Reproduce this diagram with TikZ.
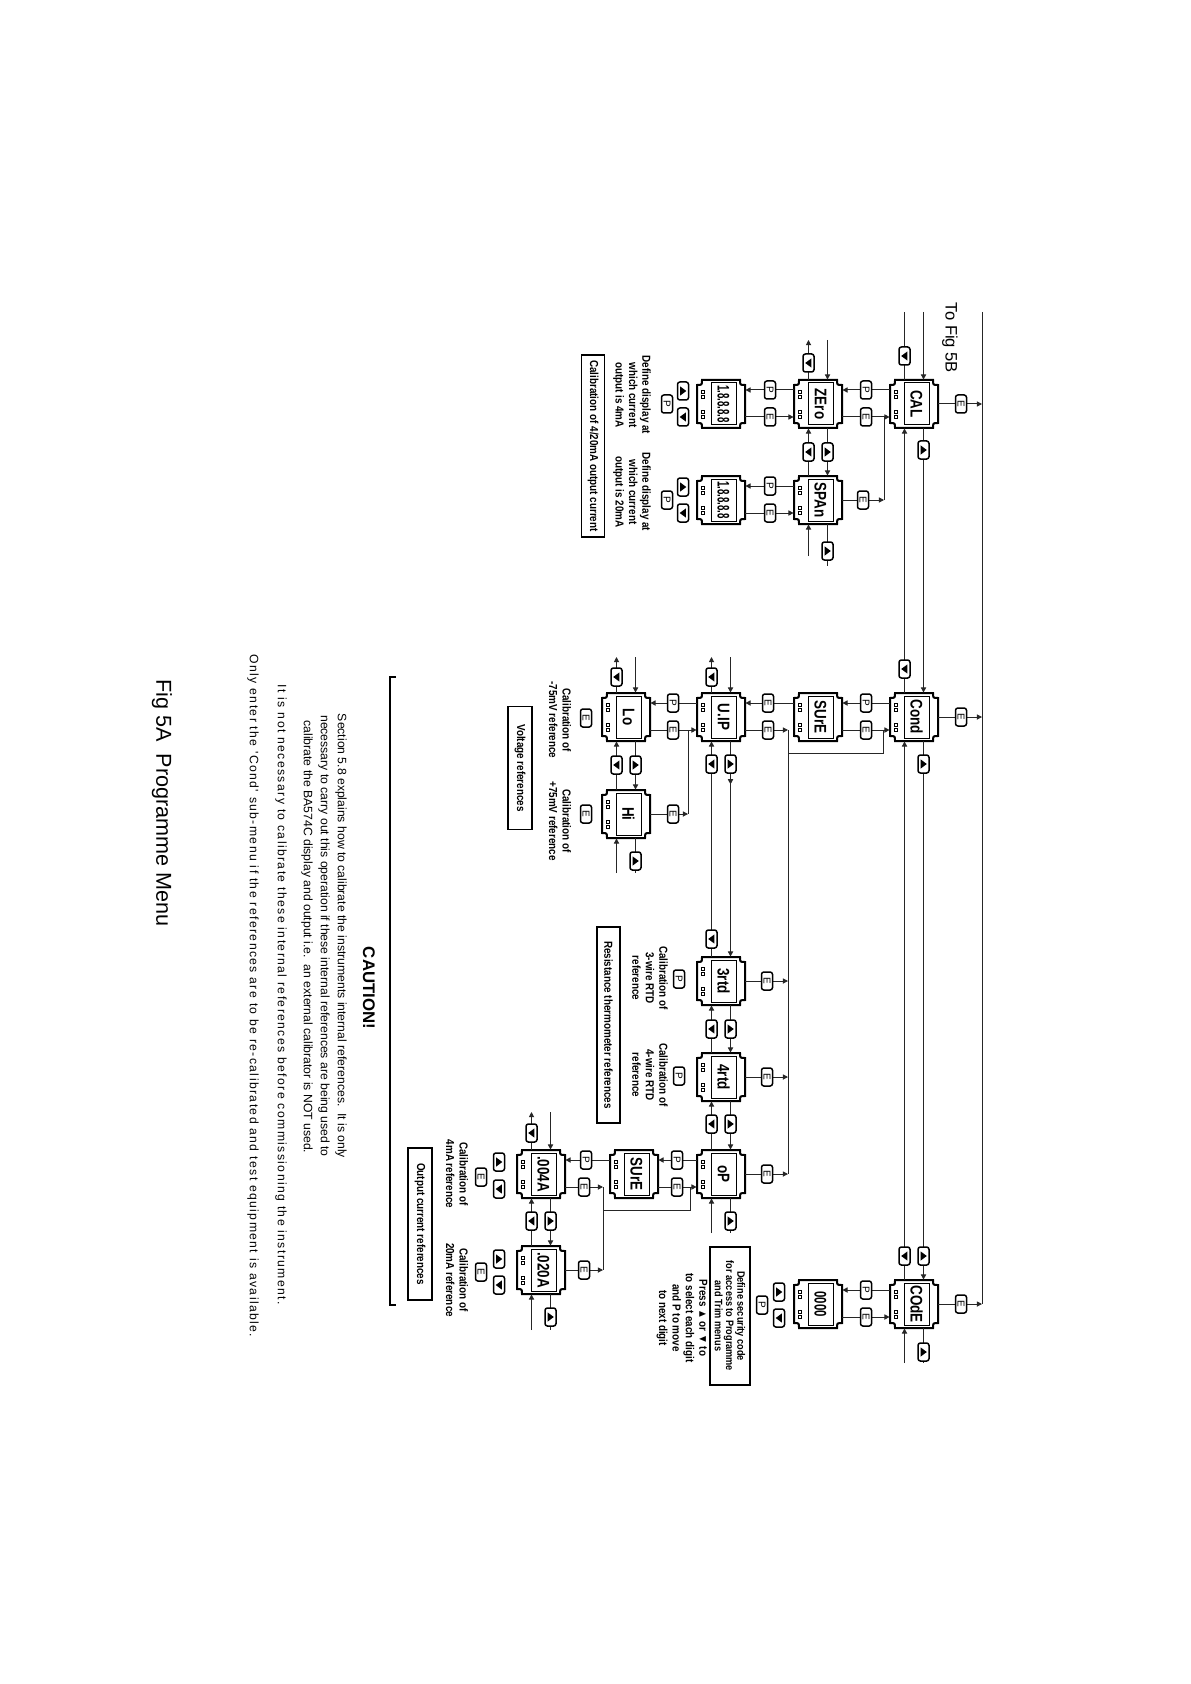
\documentclass[tikz,border=0pt]{standalone}
\usepackage{fontspec}
\usepackage{graphicx}
\setmainfont{Liberation Sans}
\newfontfamily\narrowf[FakeStretch=0.85]{Liberation Sans}
\newfontfamily\dispfam[FakeStretch=0.8]{Liberation Sans}
\newfontfamily\spacedf[LetterSpace=11.5]{Liberation Sans}
\usetikzlibrary{arrows.meta,calc,decorations.markings}
\newcommand\mylab{\narrowf\bfseries\fontsize{5.8}{6.7}\selectfont}
\newcommand\mylabs{\narrowf\bfseries\fontsize{5.4}{5.6}\selectfont}
\newcommand\mydispfont{\dispfam\bfseries\fontsize{8.4}{9}\selectfont}
\newcommand\mybtnfont{\fontsize{5}{5}\selectfont}
\newcommand\myparafont{\fontsize{6.1}{7}\selectfont}
\newcommand\myparasp{\spacedf\fontsize{6.1}{7}\selectfont}
\newcounter{btn}
\tikzset{
  ln/.style={line width=0.5pt, draw=black!85},
  arr/.style={ln, -{Triangle[length=2.6pt,width=2.6pt]}},
  dispnode/.style={minimum width=24pt, minimum height=24pt, inner sep=0pt, draw=none},
  displine/.style={line width=1pt, fill=white},
  bt/.style={draw, fill=white, line width=0.75pt, rounded corners=1.2pt, rotate=-90,
    minimum width=9pt, minimum height=5.5pt, inner sep=0pt, font=\mybtnfont},
  lbox/.style={draw, line width=0.6pt, rotate=-90, inner sep=0pt, font=\mylab},
  lbl/.style={rotate=-90, align=center, inner sep=0pt, font=\mylab},
  midarr/.style={decoration={markings, mark=at position #1 with {\arrow{Triangle[length=2.6pt,width=2.6pt]}}}, postaction={decorate}}
}
% display unit: name, X, Y, text
\newcommand\dispunit[4]{%
  \node[dispnode] (#1) at (#2,#3) {};
  \draw[displine] (#2-19,#3-24) -- (#2+19,#3-24) .. controls (#2+19,#3-19) .. (#2+24,#3-19)
    -- (#2+24,#3+19) .. controls (#2+19,#3+19) .. (#2+19,#3+24)
    -- (#2-19,#3+24) .. controls (#2-19,#3+19) .. (#2-24,#3+19)
    -- (#2-24,#3-19) .. controls (#2-19,#3-19) .. (#2-19,#3-24) -- cycle;
  \draw[line width=0.5pt] (#2-10,#3-21) rectangle (#2+15,#3+21);
  \foreach \q in {-14,-9,6,11} \draw[line width=0.35pt] ({#2-20},{#3+\q}) rectangle ++(3.5,3);
  \node[rotate=-90, font=\mydispfont, inner sep=0pt] (#1t) at (#2+2.5,#3) {#4};
}
\newcommand\bP[2]{\stepcounter{btn}\node[bt] (btn\arabic{btn}) at (#1,#2) {P};}
\newcommand\bE[2]{\stepcounter{btn}\node[bt] (btn\arabic{btn}) at (#1,#2) {E};}
\newcommand\bL[2]{\stepcounter{btn}\node[bt] (btn\arabic{btn}) at (#1,#2) {};
  \fill (#1-3.3,#2) -- (#1+2.9,#2-4.6) -- (#1+2.9,#2+4.6) -- cycle;}
\newcommand\bR[2]{\stepcounter{btn}\node[bt] (btn\arabic{btn}) at (#1,#2) {};
  \fill (#1+3.3,#2) -- (#1-2.9,#2-4.6) -- (#1-2.9,#2+4.6) -- cycle;}
\begin{document}
\begin{tikzpicture}[x=0.5pt,y=-0.5pt]
\useasboundingbox (0,0) rectangle (1190,1684);

% ---------- displays ----------
\dispunit{cal}{914}{404}{CAL}
\dispunit{cond}{914}{717}{Cond}
\dispunit{code}{914}{1304}{COdE}
\dispunit{zero}{818}{404}{ZEro}
\dispunit{span}{818}{500}{SPAn}
\dispunit{daa}{721}{404}{\scalebox{0.72}[1]{1.8.8.8.8}}
\dispunit{dab}{721}{500}{\scalebox{0.72}[1]{1.8.8.8.8}}
\dispunit{sure}{818}{717}{SUrE}
\dispunit{uip}{721}{717}{U.IP}
\dispunit{lo}{626}{717}{Lo}
\dispunit{hi}{626}{814}{Hi}
\dispunit{rtdc}{721}{981}{3rtd}
\dispunit{rtdd}{721}{1077}{4rtd}
\dispunit{op}{721}{1174}{oP}
\dispunit{surb}{634}{1174}{SUrE}
\dispunit{ma}{541}{1174}{.004A}
\dispunit{mb}{541}{1270}{.020A}
\dispunit{zz}{818}{1304}{\scalebox{0.85}[1]{0000}}

% ---------- free ends ----------
\coordinate (topL) at (904.5,312);
\coordinate (topR) at (923.5,312);
\coordinate (topE) at (982,312);
\coordinate (botE) at (982,1304);
\coordinate (botL) at (904.5,1363);
\coordinate (botR) at (923.5,1363);
\coordinate (zt) at (818,340);
\coordinate (sbl) at (808.5,556);
\coordinate (sbr) at (827.5,566);
\coordinate (spj) at (884,500);
\coordinate (spk) at (884,417);
\coordinate (r1) at (883,730);
\coordinate (r2) at (883,753);
\coordinate (r3) at (788,753);
\coordinate (r5) at (788,730);
\coordinate (r4) at (788,1174);
\coordinate (h1) at (688,730);
\coordinate (h2) at (688,814);
\coordinate (ut) at (721,657);
\coordinate (lt) at (626,657);
\coordinate (hb) at (626,873);
\coordinate (ob) at (721,1233);
\coordinate (s1) at (690,1187);
\coordinate (s2) at (690,1210);
\coordinate (s3) at (603,1210);
\coordinate (s4) at (603,1187);
\coordinate (s5) at (603,1270);
\coordinate (mt) at (541,1112);
\coordinate (mbb) at (541,1330);

% ---------- main column ----------
\draw[ln] ($(cal.north)+(-9.5,0)$) -- (topL);
\draw[arr] (topR) -- ($(cal.north)+(9.5,0)$);
\draw[ln] (topE) -- (botE);
\draw[arr] ($(cal.south)+(9.5,0)$) -- ($(cond.north)+(9.5,0)$);
\draw[arr] ($(cond.north)+(-9.5,0)$) -- ($(cal.south)+(-9.5,0)$);
\draw[arr] ($(cond.south)+(9.5,0)$) -- ($(code.north)+(9.5,0)$);
\draw[arr] ($(code.north)+(-9.5,0)$) -- ($(cond.south)+(-9.5,0)$);
\draw[arr] (botL) -- ($(code.south)+(-9.5,0)$);
\draw[ln] ($(code.south)+(9.5,0)$) -- (botR);
\draw[arr] (cal.east) -- (cal.east -| topE);
\draw[arr] (cond.east) -- (cond.east -| topE);
\draw[arr] (code.east) -- (code.east -| topE);

% ---------- CAL sub-menu ----------
\draw[arr] ($(cal.west)+(0,-14)$) -- ($(zero.east)+(0,-14)$);
\draw[arr] ($(zero.east)+(0,13)$) -- ($(cal.west)+(0,13)$);
\draw[arr] (span.east) -- (spj);
\draw[ln] (spj) -- (spk);
\draw[arr] ($(zero.west)+(0,-14)$) -- ($(daa.east)+(0,-14)$);
\draw[arr] ($(daa.east)+(0,13)$) -- ($(zero.west)+(0,13)$);
\draw[arr] ($(span.west)+(0,-14)$) -- ($(dab.east)+(0,-14)$);
\draw[arr] ($(dab.east)+(0,13)$) -- ($(span.west)+(0,13)$);
\draw[arr] ($(span.north)+(-9.5,0)$) -- ($(zero.south)+(-9.5,0)$);
\draw[arr] ($(zero.south)+(9.5,0)$) -- ($(span.north)+(9.5,0)$);
\draw[arr] ($(zero.north)+(-9.5,0)$) -- ($(zt)+(-9.5,0)$);
\draw[arr] ($(zt)+(9.5,0)$) -- ($(zero.north)+(9.5,0)$);
\draw[arr] (sbl) -- ($(span.south)+(-9.5,0)$);
\draw[ln] ($(span.south)+(9.5,0)$) -- (sbr);

% ---------- Cond sub-menu ----------
\draw[arr] ($(cond.west)+(0,-14)$) -- ($(sure.east)+(0,-14)$);
\draw[arr] ($(sure.east)+(0,13)$) -- ($(cond.west)+(0,13)$);
\draw[ln] (r1) -- (r2) -- (r3);
\draw[ln] (r5) -- (r4);
\draw[arr] ($(sure.west)+(0,-14)$) -- ($(uip.east)+(0,-14)$);
\draw[arr] ($(uip.east)+(0,13)$) -- (r5);
\draw[arr] (rtdc.east) -- (rtdc.east -| r5);
\draw[arr] (rtdd.east) -- (rtdd.east -| r5);
\draw[arr] (op.east) -- (r4);
\draw[arr] ($(uip.west)+(0,-14)$) -- ($(lo.east)+(0,-14)$);
\draw[arr] ($(lo.east)+(0,13)$) -- ($(uip.west)+(0,13)$);
\draw[ln] (h1) -- (h2);
\draw[arr] (hi.east) -- (h2);
\draw[arr] ($(uip.north)+(-9.5,0)$) -- ($(ut)+(-9.5,0)$);
\draw[arr] ($(ut)+(9.5,0)$) -- ($(uip.north)+(9.5,0)$);
\draw[arr] ($(lo.north)+(-9.5,0)$) -- ($(lt)+(-9.5,0)$);
\draw[arr] ($(lt)+(9.5,0)$) -- ($(lo.north)+(9.5,0)$);
\draw[arr] ($(hi.north)+(-9.5,0)$) -- ($(lo.south)+(-9.5,0)$);
\draw[arr] ($(lo.south)+(9.5,0)$) -- ($(hi.north)+(9.5,0)$);
\draw[arr] ($(hb)+(-9.5,0)$) -- ($(hi.south)+(-9.5,0)$);
\draw[ln] ($(hi.south)+(9.5,0)$) -- ($(hb)+(9.5,0)$);
\draw[arr] ($(rtdc.north)+(-9.5,0)$) -- ($(uip.south)+(-9.5,0)$);
\draw[arr, midarr=21.5pt] ($(uip.south)+(9.5,0)$) -- ($(rtdc.north)+(9.5,0)$);
\draw[arr] ($(rtdd.north)+(-9.5,0)$) -- ($(rtdc.south)+(-9.5,0)$);
\draw[arr] ($(rtdc.south)+(9.5,0)$) -- ($(rtdd.north)+(9.5,0)$);
\draw[arr] ($(op.north)+(-9.5,0)$) -- ($(rtdd.south)+(-9.5,0)$);
\draw[arr] ($(rtdd.south)+(9.5,0)$) -- ($(op.north)+(9.5,0)$);
\draw[arr] ($(ob)+(-9.5,0)$) -- ($(op.south)+(-9.5,0)$);
\draw[ln] ($(op.south)+(9.5,0)$) -- ($(ob)+(9.5,0)$);
\draw[arr] ($(op.west)+(0,-14)$) -- ($(surb.east)+(0,-14)$);
\draw[arr] ($(surb.east)+(0,13)$) -- ($(op.west)+(0,13)$);
\draw[ln] (s1) -- (s2) -- (s3);
\draw[ln] (s4) -- (s5);
\draw[arr] ($(ma.east)+(0,13)$) -- (s4);
\draw[arr] (mb.east) -- (s5);
\draw[arr] ($(surb.west)+(0,-14)$) -- ($(ma.east)+(0,-14)$);
\draw[arr] ($(ma.north)+(-9.5,0)$) -- ($(mt)+(-9.5,0)$);
\draw[arr] ($(mt)+(9.5,0)$) -- ($(ma.north)+(9.5,0)$);
\draw[arr] ($(mb.north)+(-9.5,0)$) -- ($(ma.south)+(-9.5,0)$);
\draw[arr] ($(ma.south)+(9.5,0)$) -- ($(mb.north)+(9.5,0)$);
\draw[arr] ($(mbb)+(-9.5,0)$) -- ($(mb.south)+(-9.5,0)$);
\draw[ln] ($(mb.south)+(9.5,0)$) -- ($(mbb)+(9.5,0)$);

% ---------- COdE sub-menu ----------
\draw[arr] ($(code.west)+(0,-14)$) -- ($(zz.east)+(0,-14)$);
\draw[arr] ($(zz.east)+(0,13)$) -- ($(code.west)+(0,13)$);

% ---------- buttons ----------
\bL{904.5}{356} \bR{923.5}{450} \bL{904.5}{669} \bR{923.5}{764}
\bL{904.5}{1256} \bR{923.5}{1256} \bR{923.5}{1352}
\bE{961}{404} \bE{961}{717} \bE{961}{1304}
\bP{866}{390} \bE{866}{417} \bE{863}{500}
\bP{770}{390} \bE{770}{417} \bP{770}{486} \bE{770}{513}
\bL{808.5}{363} \bL{808.5}{452} \bR{827.5}{452} \bR{827.5}{551}
\bR{683}{391} \bP{667}{404} \bL{683}{417}
\bR{683}{487} \bP{667}{500} \bL{683}{513}
\bP{866}{703} \bE{866}{730}
\bE{768}{703} \bE{768}{730}
\bP{673}{703} \bE{673}{730} \bE{673}{814}
\bL{711.5}{677} \bL{616.5}{677}
\bL{711.5}{764} \bR{730.5}{764} \bL{711.5}{939}
\bE{767}{981} \bE{767}{1077} \bE{767}{1174}
\bL{711.5}{1029} \bR{730.5}{1029} \bL{711.5}{1124} \bR{730.5}{1124} \bR{730.5}{1221}
\bP{679}{979} \bP{679}{1076}
\bL{616.5}{765} \bR{635.5}{765} \bR{635.5}{861}
\bE{586}{718} \bE{586}{814}
\bP{677}{1160} \bE{677}{1187}
\bP{586}{1160} \bE{584}{1187} \bE{584}{1270}
\bL{531.5}{1133} \bL{531.5}{1221} \bR{550.5}{1221} \bR{550.5}{1317}
\bR{499}{1162} \bE{481}{1177} \bL{499}{1189}
\bR{499}{1259} \bE{481}{1272} \bL{499}{1285}
\bP{866}{1290} \bE{866}{1317}
\bR{779}{1292} \bP{762}{1305} \bL{779}{1318}

% ---------- labels ----------
\node[rotate=-90, inner sep=0pt, font=\fontsize{8.3}{9}\selectfont] (tofig) at (950,338) {To Fig 5B};
\node[lbl] (t1) at (632,395) {Define display at\\which current\\output is 4mA};
\node[lbl] (t2) at (632,492) {Define display at\\which current\\output is 20mA};
\node[lbox, minimum width=91pt, minimum height=11.5pt] (b1) at (593,446) {Calibration of 4/20mA output current};
\node[lbl] (t3) at (560,720) {Calibration of\\-75mV reference};
\node[lbl] (t4) at (560,821) {Calibration of\\+75mV reference};
\node[lbox, minimum width=61.5pt, minimum height=12pt] (b2) at (520,768) {Voltage references};
\node[lbl] (t5) at (650,978) {Calibration of\\3-wire RTD\\reference};
\node[lbl] (t6) at (650,1075) {Calibration of\\4-wire RTD\\reference};
\node[lbox, minimum width=98pt, minimum height=11.5pt] (b3) at (608.5,1025) {Resistance thermometer references};
\node[lbl] (t7) at (457,1174) {Calibration of\\4mA reference};
\node[lbl] (t8) at (457,1280) {Calibration of\\20mA reference};
\node[lbox, minimum width=76pt, minimum height=12pt] (b4) at (420,1224) {Output current references};
\node[lbox, align=center, font=\mylabs, minimum width=69pt, minimum height=20pt] (b5) at (730,1316) {Define security code\\for access to Programme\\and Trim menus};
\node[lbl] (t9) at (682,1318) {Press ▲ or ▼ to\\to select each digit\\and P to move\\to next digit};

% ---------- caution ----------
\draw[line width=0.9pt] (396,677) -- (390,677) -- (390,1305) -- (396,1305);
\node[rotate=-90, inner sep=0pt, font=\bfseries\fontsize{8.4}{9}\selectfont] (caution) at (369,988) {CAUTION!};
\node[rotate=-90, inner sep=0pt, font=\myparafont] (p1) at (341,936) {Section 5.8 explains how to calibrate the instruments internal references.\ \ It is only};
\node[rotate=-90, inner sep=0pt, font=\myparafont] (p2) at (324,936) {necessary to carry out this operation if these internal references are being used to};
\node[rotate=-90, inner sep=0pt, font=\myparafont] (p3) at (307,937) {calibrate the BA574C display and output i.e.\ \ an external calibrator is NOT used.};
\node[rotate=-90, inner sep=0pt, font=\myparasp] (p4) at (281,995) {It is not necessary to calibrate these internal references before commissioning the instrument.};
\node[rotate=-90, inner sep=0pt, font=\myparasp] (p5) at (253,996) {Only enter the 'Cond' sub-menu if the references are to be re-calibrated and test equipment is available.};
\node[rotate=-90, inner sep=0pt, font=\fontsize{10.8}{12}\selectfont] (title) at (162,803) {Fig 5A\ \ Programme Menu};
\end{tikzpicture}
\end{document}
